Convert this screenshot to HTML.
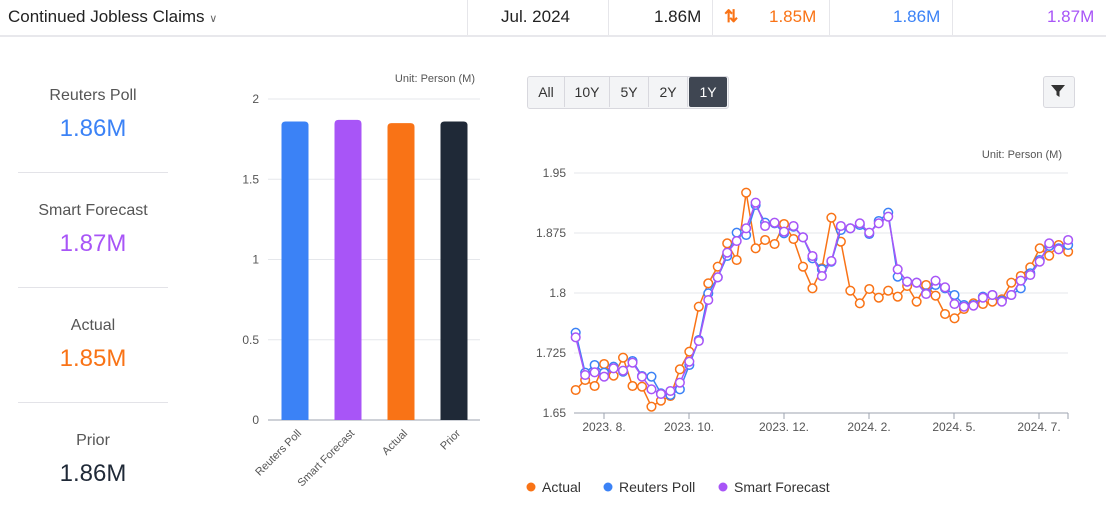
<!DOCTYPE html><html><head><meta charset="utf-8"><style>
body{margin:0;width:1106px;height:514px;background:#fff;font-family:"Liberation Sans",sans-serif;position:relative;overflow:hidden;color:#222}
.a{position:absolute}
.top{position:absolute;left:0;top:0;width:1106px;height:35px;border-bottom:2px solid #e8e8ec}
.sep{position:absolute;top:0;width:1px;height:35px;background:#e6e6ea}
.tt{position:absolute;top:7px;font-size:17px}
.lbl{position:absolute;left:18px;width:150px;text-align:center}
.lbl .n{font-size:16px;color:#555}
.lbl .v{font-size:24px;margin-top:10px}
.hr{position:absolute;left:18px;width:150px;height:1px;background:#e3e3e8}
.btn{position:absolute;top:77px;height:30px;line-height:30px;font-size:14px;color:#333;text-align:center;border-right:1px solid #d8d8de}
</style></head><body>
<div class="top">
<div class="tt" style="left:8px;color:#222">Continued Jobless Claims <span style="font-size:11px;color:#666">&#8744;</span></div>
<div class="sep" style="left:467px"></div><div class="sep" style="left:608px"></div><div class="sep" style="left:712px"></div><div class="sep" style="left:829px"></div><div class="sep" style="left:952px"></div>
<div class="tt" style="left:501px">Jul. 2024</div>
<div class="tt" style="left:654px">1.86M</div>
<div class="tt" style="left:724px;color:#f97316;font-weight:bold">&#8645;</div>
<div class="tt" style="left:769px;color:#f97316">1.85M</div>
<div class="tt" style="left:893px;color:#3b82f6">1.86M</div>
<div class="tt" style="left:1047px;color:#a855f7">1.87M</div>
</div>
<div class="lbl" style="top:87px"><div class="n">Reuters Poll</div><div class="v" style="color:#3b82f6">1.86M</div></div>
<div class="hr" style="top:172px"></div>
<div class="lbl" style="top:202px"><div class="n">Smart Forecast</div><div class="v" style="color:#a855f7">1.87M</div></div>
<div class="hr" style="top:287px"></div>
<div class="lbl" style="top:317px"><div class="n">Actual</div><div class="v" style="color:#f97316">1.85M</div></div>
<div class="hr" style="top:402px"></div>
<div class="lbl" style="top:432px"><div class="n">Prior</div><div class="v" style="color:#1f2937">1.86M</div></div>

<div class="a" style="left:527px;top:76px;width:200px;height:31px;border:1px solid #d8d8de;border-radius:3px;background:#f3f4f6"></div>
<div class="btn" style="left:528px;width:36px">All</div>
<div class="btn" style="left:565px;width:44px">10Y</div>
<div class="btn" style="left:610px;width:38px">5Y</div>
<div class="btn" style="left:649px;width:38px">2Y</div>
<div class="btn" style="left:689px;width:38px;background:#3f4652;color:#fff;border:none;border-radius:2px;top:77px">1Y</div>
<div class="a" style="left:1043px;top:76px;width:30px;height:30px;border:1px solid #d8d8de;border-radius:3px;background:#f3f4f6"></div>
<svg class="a" style="left:1050px;top:83px" width="16" height="16"><path d="M1 2H15L9.5 8.5V14L6.5 12V8.5Z" fill="#333"/></svg>

<svg class="a" style="left:0;top:0" width="1106" height="514" id="s" font-family="Liberation Sans, sans-serif"></svg>
<script>
var s=document.getElementById('s'),h='';
h+='<text x="475" y="82" font-size="11" fill="#555" text-anchor="end">Unit: Person (M)</text>';
[[2,'2'],[1.5,'1.5'],[1,'1'],[0.5,'0.5'],[0,'0']].forEach(function(t){var y=420-t[0]*160.5;h+='<line x1="268" x2="480" y1="'+y+'" y2="'+y+'" stroke="'+(t[0]?'#e5e7eb':'#9ca3af')+'"/><text x="259" y="'+(y+4)+'" font-size="12" fill="#555" text-anchor="end">'+t[1]+'</text>';});
[['Reuters Poll',1.86,'#3b82f6'],['Smart Forecast',1.87,'#a855f7'],['Actual',1.85,'#f97316'],['Prior',1.86,'#1f2937']].forEach(function(b,i){var cx=295+i*53,y=420-b[1]*160.5;h+='<path d="M'+(cx-13.5)+' 420V'+(y+4)+'Q'+(cx-13.5)+' '+y+' '+(cx-9.5)+' '+y+'H'+(cx+9.5)+'Q'+(cx+13.5)+' '+y+' '+(cx+13.5)+' '+(y+4)+'V420Z" fill="'+b[2]+'"/>';h+='<text transform="translate('+(cx+7)+',434) rotate(-45)" font-size="11" fill="#555" text-anchor="end">'+b[0]+'</text>';});
h+='<text x="1062" y="158" font-size="11" fill="#555" text-anchor="end">Unit: Person (M)</text>';
[[1.95,'1.95'],[1.875,'1.875'],[1.8,'1.8'],[1.725,'1.725']].forEach(function(t){var y=173+(1.95-t[0])*800;h+='<line x1="574" x2="1068" y1="'+y+'" y2="'+y+'" stroke="#e5e7eb"/><text x="566" y="'+(y+4)+'" font-size="12" fill="#555" text-anchor="end">'+t[1]+'</text>';});
h+='<line x1="574" x2="1068" y1="413" y2="413" stroke="#9ca3af"/><text x="566" y="417" font-size="12" fill="#555" text-anchor="end">1.65</text>';
[[604,'2023. 8.'],[689,'2023. 10.'],[784,'2023. 12.'],[869,'2024. 2.'],[954,'2024. 5.'],[1039,'2024. 7.']].forEach(function(t){h+='<line x1="'+t[0]+'" x2="'+t[0]+'" y1="413" y2="419" stroke="#9ca3af"/><text x="'+t[0]+'" y="431" font-size="12" fill="#555" text-anchor="middle">'+t[1]+'</text>';});
h+='<line x1="1068" x2="1068" y1="413" y2="419" stroke="#9ca3af"/>';
var A=[690,660,678,612,647,593,678,680,740,722,708,628,575,440,370,320,250,300,98,265,240,252,192,237,320,385,325,173,245,392,430,387,413,392,410,378,425,375,407,462,475,447,430,432,425,418,368,348,322,265,287,255,275];
var B=[518,638,615,638,620,635,603,648,650,700,705,688,615,540,400,352,288,218,225,135,188,190,220,200,232,295,328,305,210,205,195,222,183,158,350,365,368,400,375,385,405,435,435,410,405,422,405,385,340,300,258,265,255];
var P=[532,645,637,650,625,632,608,650,688,702,693,668,605,543,420,352,278,243,205,128,198,188,215,198,232,288,348,303,198,205,190,218,190,170,328,365,368,402,362,382,432,440,437,413,405,425,405,362,345,305,250,268,240];
function ser(d,c){var pts=d.map(function(v,i){return [575.7+i*9.47,160+v/3];});h+='<polyline fill="none" stroke="'+c+'" stroke-width="1.5" points="'+pts.map(function(p){return p.join(',')}).join(' ')+'"/>';pts.forEach(function(p){h+='<circle cx="'+p[0]+'" cy="'+p[1]+'" r="4.3" fill="#fff" stroke="'+c+'" stroke-width="1.5"/>';});}
ser(A,'#f97316');ser(B,'#3b82f6');ser(P,'#a855f7');
[[531,'Actual','#f97316'],[608,'Reuters Poll','#3b82f6'],[723,'Smart Forecast','#a855f7']].forEach(function(l){h+='<circle cx="'+l[0]+'" cy="487" r="4.5" fill="'+l[2]+'"/><text x="'+(l[0]+11)+'" y="492" font-size="14" fill="#333">'+l[1]+'</text>';});
s.innerHTML=h;
</script>
</body></html>
